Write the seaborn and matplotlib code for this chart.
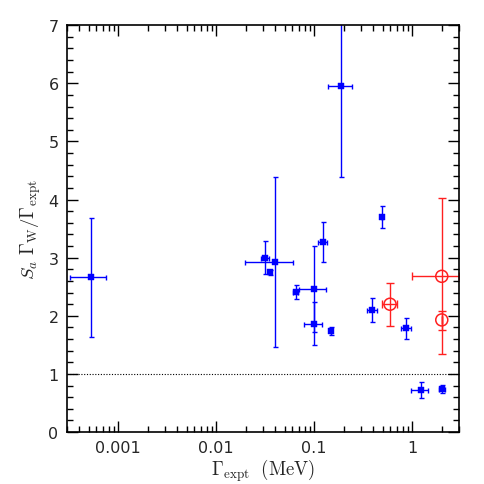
import numpy as np
import pandas as pd
import matplotlib
matplotlib.use("Agg")
import matplotlib.pyplot as plt
import seaborn as sns
from matplotlib.ticker import LogLocator, FixedLocator, MultipleLocator, FixedFormatter, NullFormatter

# ---- data ----
blue_x = [5.34e-4, 0.0319, 0.0356, 0.040, 0.0646, 0.0995, 0.0995, 0.122, 0.149, 0.19, 0.39, 0.497, 0.869, 1.22, 2.01]
blue_y = [2.66, 3.00, 2.75, 2.92, 2.41, 2.47, 1.86, 3.27, 1.74, 5.95, 2.10, 3.70, 1.79, 0.72, 0.74]
blue_yerr = [1.03, 0.28, 0.04, 1.46, 0.12, 0.74, 0.37, 0.35, 0.07, 1.57, 0.21, 0.19, 0.18, 0.14, 0.07]
blue_xlo = [3.23e-4, 0.0288, 0.0356, 0.0198, 0.0607, 0.070, 0.0787, 0.109, 0.149, 0.14, 0.347, 0.497, 0.778, 0.986, 1.876]
blue_xhi = [7.48e-4, 0.035, 0.0356, 0.0603, 0.0683, 0.131, 0.121, 0.136, 0.149, 0.242, 0.439, 0.497, 0.970, 1.46, 2.19]

red_x = [0.596, 2.01, 2.01]
red_y = [2.20, 2.68, 1.93]
red_xlo = [0.498, 1.0, 2.01]
red_xhi = [0.708, 3.0, 2.01]
red_ylo = [1.83, 1.35, 1.76]
red_yhi = [2.57, 4.03, 2.09]

xticks = [0.001, 0.01, 0.1, 1]
xticklabels = ["0.001", "0.01", "0.1", "1"]
yticks = [0, 1, 2, 3, 4, 5, 6, 7]

sns.set_style("ticks")
plt.rcParams["mathtext.fontset"] = "cm"
plt.rcParams["font.family"] = ["DejaVu Sans"]

fig = plt.figure(figsize=(4.85, 4.85), dpi=100)
ax = fig.add_axes([0.138, 0.107, 0.808, 0.839])

blue = "#0000ff"
red = "#ff2020"

dfb = pd.DataFrame({"x": blue_x, "y": blue_y})
dfr = pd.DataFrame({"x": red_x, "y": red_y})

bx = np.array(blue_x); by = np.array(blue_y)
ax.errorbar(bx, by, yerr=blue_yerr,
            xerr=[bx - np.array(blue_xlo), np.array(blue_xhi) - bx],
            fmt="none", ecolor=blue, elinewidth=1.0, capsize=1.8, capthick=1.0, zorder=2)
sns.scatterplot(data=dfb, x="x", y="y", marker="s", s=16, color=blue,
                edgecolor=blue, linewidth=0.3, ax=ax, zorder=3, legend=False)

rx = np.array(red_x); ry = np.array(red_y)
ax.errorbar(rx, ry, yerr=[ry - np.array(red_ylo), np.array(red_yhi) - ry],
            xerr=[rx - np.array(red_xlo), np.array(red_xhi) - rx],
            fmt="none", ecolor=red, elinewidth=1.0, capsize=3.0, capthick=1.0, zorder=2)
sns.scatterplot(data=dfr, x="x", y="y", marker="o", s=75, facecolor="none",
                edgecolor=red, linewidth=1.1, ax=ax, zorder=3, legend=False)

ax.axhline(1.0, color="black", linestyle=(0, (1, 1.5)), linewidth=0.8, zorder=1)

ax.set_xscale("log")
ax.set_xlim(3e-4, 3.0)
ax.set_ylim(0, 7)

ax.xaxis.set_major_locator(FixedLocator(xticks))
ax.xaxis.set_major_formatter(FixedFormatter(xticklabels))
ax.xaxis.set_minor_locator(LogLocator(base=10, subs=np.arange(2, 10), numticks=20))
ax.xaxis.set_minor_formatter(NullFormatter())
ax.yaxis.set_major_locator(FixedLocator(yticks))
ax.yaxis.set_minor_locator(MultipleLocator(0.2))

ax.tick_params(which="both", direction="in", top=True, right=True, color="black", width=1.0)
ax.tick_params(which="major", length=8, labelsize=11.5, pad=6)
ax.tick_params(which="minor", length=4)

for s in ax.spines.values():
    s.set_color("black")
    s.set_linewidth(1.2)
    s.set_visible(True)

ax.set_xlabel(r"$\Gamma_{\rm expt}\ \ {\rm (MeV)}$", fontsize=13.5, labelpad=1)
ax.set_ylabel(r"$S_a\ \Gamma_{\rm W}/\Gamma_{\rm expt}$", fontsize=13.5, labelpad=4)

fig.savefig("out.png", dpi=100)
